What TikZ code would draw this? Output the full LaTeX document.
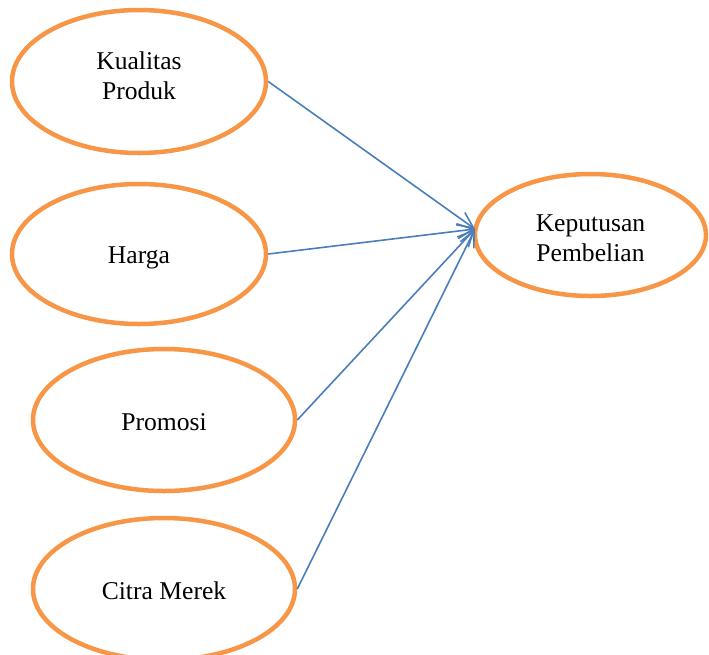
\documentclass[tikz,border=0pt]{standalone}
\usepackage{fontspec}
\setmainfont{Liberation Serif}
\usetikzlibrary{arrows.meta,shapes.geometric}
\definecolor{ob}{HTML}{F79646}
\definecolor{ln}{HTML}{4A7EBB}

\begin{document}
\begin{tikzpicture}[x=1pt,y=-1pt,font=\fontsize{25.6}{30}\selectfont,
  var/.style={ellipse,draw=ob,line width=4.5pt,fill=white,inner sep=0pt},
  txt/.style={align=center,inner sep=0pt},
  ar/.style={-{Straight Barb[length=16pt,width=15pt]},draw=ln,line width=1.6pt}]
\useasboundingbox (0,0) rectangle (709,654);
\node[var,minimum width=254pt,minimum height=143pt] (kp) at (139,81.5) {};
\node[var,minimum width=254pt,minimum height=140pt] (hg) at (139,254) {};
\node[var,minimum width=262pt,minimum height=142pt] (pr) at (164,420) {};
\node[var,minimum width=262pt,minimum height=142pt] (cm) at (164,589) {};
\node[var,minimum width=231pt,minimum height=122pt] (kb) at (590.5,235) {};
\node[txt] (kpt) at ([yshift=6pt]kp.center) {Kualitas\\Produk};
\node[txt] (hgt) at ([yshift=-4pt]hg.center) {Harga};
\node[txt] (prt) at ([yshift=-2pt]pr.center) {Promosi};
\node[txt] (cmt) at ([yshift=-2pt]cm.center) {Citra Merek};
\node[txt] (kbt) at ([yshift=-3pt]kb.center) {Keputusan\\Pembelian};
\coordinate (tip) at (475,229);
\draw[ar] (kp.east) -- (tip);
\draw[ar] (hg.east) -- (tip);
\draw[ar] (pr.east) -- (tip);
\draw[ar] (cm.east) -- (tip);
\end{tikzpicture}
\end{document}
